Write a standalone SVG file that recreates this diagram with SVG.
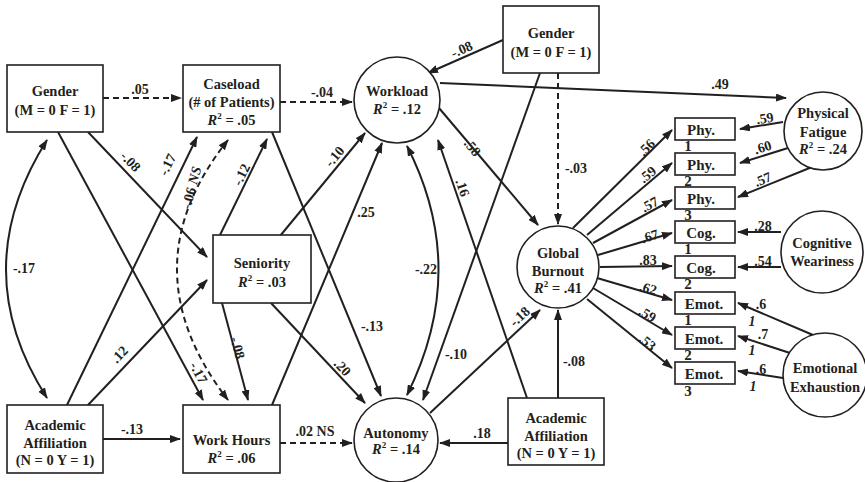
<svg xmlns="http://www.w3.org/2000/svg" width="865" height="482" viewBox="0 0 865 482" font-family="'Liberation Serif', 'DejaVu Serif', serif">
<defs>
<marker id="ah" markerUnits="userSpaceOnUse" markerWidth="11" markerHeight="8" refX="10" refY="4" orient="auto-start-reverse"><path d="M0,0 L11,4 L0,8 z" fill="#231f20"/></marker>
<style>
.n{fill:#fff;stroke:#231f20;stroke-width:1.6}
text{font-family:'Liberation Serif','DejaVu Serif',serif;font-weight:bold;fill:#231f20;text-anchor:middle}
.t{font-size:14.5px}
.i{font-size:15px}
.l{font-size:14px}
.e{fill:none;stroke:#231f20;stroke-width:2;marker-end:url(#ah)}
.d{stroke-dasharray:6,4}
.b{marker-start:url(#ah)}
.it{font-style:italic}
</style>
</defs>
<g id="connectors">
<path class="e d" d="M103,98 L181,98"/>
<path class="e d" d="M280,102 L352,102"/>
<path class="e" d="M503,40 L428,73"/>
<path class="e" d="M440,83 L786,98"/>
<path class="e" d="M439,108 L538,225"/>
<path class="e d" d="M558,73 L558,224"/>
<path class="e" d="M540,73 L423,400"/>
<path class="e" d="M527,398 L438,140"/>
<path class="e b" d="M407,146 Q470,269 407,395"/>
<path class="e" d="M272,132 L381,396"/>
<path class="e" d="M271,303 L365,403"/>
<path class="e" d="M272,405 L382,143"/>
<path class="e" d="M280,236 L365,133"/>
<path class="e" d="M220,235 L267,139"/>
<path class="e" d="M67,405 L197,137"/>
<path class="e" d="M88,405 L207,280"/>
<path class="e" d="M88,132 L207,257"/>
<path class="e" d="M58,132 L203,400"/>
<path class="e b" d="M47,140 Q-35,270 47,398"/>
<path class="e b d" d="M228,140 Q126,268 228,400"/>
<path class="e" d="M222,303 L248,400"/>
<path class="e" d="M103,439 L180,439"/>
<path class="e d" d="M280,443 L352,443"/>
<path class="e" d="M508,443 L440,443"/>
<path class="e" d="M430,413 L540,310"/>
<path class="e" d="M558,398 L558,310"/>
<path class="e" d="M573,228 L672,130"/>
<path class="e" d="M587,235 L672,163"/>
<path class="e" d="M593,243 L672,200"/>
<path class="e" d="M598,255 L672,233"/>
<path class="e" d="M600,267 L672,266"/>
<path class="e" d="M597,278 L672,300"/>
<path class="e" d="M593,288 L672,335"/>
<path class="e" d="M587,299 L672,368"/>
<path class="e" d="M783,122 L740,129"/>
<path class="e" d="M788,148 L740,163"/>
<path class="e" d="M812,167 L738,197"/>
<path class="e" d="M781,232 L738,232"/>
<path class="e" d="M781,267 L738,267"/>
<path class="e" d="M813,335 L738,303"/>
<path class="e" d="M790,353 L738,336"/>
<path class="e" d="M783,378 L738,371"/>
<text class="l" x="140" y="94">.05</text>
<text class="l" x="322" y="97">-.04</text>
<text class="l" transform="translate(462,50) rotate(-24)" y="4">-.08</text>
<text class="l" x="720" y="89">.49</text>
<text class="l" transform="translate(472,148) rotate(50)" y="4">.58</text>
<text class="l" x="576" y="173">-.03</text>
<text class="l" x="456" y="359">-.10</text>
<text class="l" transform="translate(462,188) rotate(71)" y="4">.16</text>
<text class="l" x="426" y="274">-.22</text>
<text class="l" x="372" y="331">-.13</text>
<text class="l" transform="translate(342,368) rotate(47)" y="4">.20</text>
<text class="l" x="366" y="217">.25</text>
<text class="l" transform="translate(335,157) rotate(-50)" y="4">-.10</text>
<text class="l" transform="translate(242,175) rotate(-64)" y="4">-.12</text>
<text class="l" transform="translate(168,165) rotate(-64)" y="4">-.17</text>
<text class="l" transform="translate(120,355) rotate(-46)" y="4">.12</text>
<text class="l" transform="translate(130,162) rotate(46)" y="4">-.08</text>
<text class="l" transform="translate(198,373) rotate(62)" y="4">-.17</text>
<text class="l" x="24" y="273">-.17</text>
<text class="l" transform="translate(192,188) rotate(-75)" y="4">-.06 <tspan class="it">NS</tspan></text>
<text class="l" transform="translate(237,348) rotate(75)" y="4">-.08</text>
<text class="l" x="132" y="434">-.13</text>
<text class="l" x="315" y="436">.02 NS</text>
<text class="l" x="482" y="438">.18</text>
<text class="l" transform="translate(520,317) rotate(-43)" y="4">-.18</text>
<text class="l" x="574" y="366">-.08</text>
<text class="l" transform="translate(647,148) rotate(-45)" y="4">.56</text>
<text class="l" transform="translate(648,175) rotate(-40)" y="4">.59</text>
<text class="l" transform="translate(650,205) rotate(-29)" y="4">.57</text>
<text class="l" transform="translate(650,237) rotate(-17)" y="4">.67</text>
<text class="l" x="648" y="265">.83</text>
<text class="l" transform="translate(648,289) rotate(16)" y="4">.62</text>
<text class="l" transform="translate(647,315) rotate(31)" y="4">.59</text>
<text class="l" transform="translate(647,343) rotate(39)" y="4">.53</text>
<text class="l" transform="translate(765,119) rotate(-9)" y="4">.59</text>
<text class="l" transform="translate(763,148) rotate(-17)" y="4">.60</text>
<text class="l" transform="translate(763,180) rotate(-22)" y="4">.57</text>
<text class="l" x="763" y="231">.28</text>
<text class="l" x="763" y="266">.54</text>
<text class="l" x="761" y="309">.6</text>
<text class="l it" x="752" y="326">1</text>
<text class="l" x="763" y="339">.7</text>
<text class="l it" x="752" y="355">1</text>
<text class="l" x="761" y="374">.6</text>
<text class="l it" x="753" y="391">1</text>
</g>
<g id="genderL"><rect class="n" x="7" y="65" width="96" height="67"/><text class="t" x="55" y="96">Gender</text><text class="t" x="55" y="115">(M = 0 F = 1)</text></g>
<g id="caseload"><rect class="n" x="183" y="65" width="97" height="67"/><text class="t" x="231.5" y="89">Caseload</text><text class="t" x="231.5" y="107">(# of Patients)</text><text class="t" x="231.5" y="125"><tspan class="it">R</tspan><tspan font-size="9" dy="-6">2</tspan><tspan dy="6"> = .05</tspan></text></g>
<g id="workload"><circle class="n" cx="397" cy="100" r="43"/><text class="t" x="397" y="96">Workload</text><text class="t" x="397" y="114"><tspan class="it">R</tspan><tspan font-size="9" dy="-6">2</tspan><tspan dy="6"> = .12</tspan></text></g>
<g id="genderT"><rect class="n" x="503" y="6" width="96" height="67"/><text class="t" x="551" y="38">Gender</text><text class="t" x="551" y="57">(M = 0 F = 1)</text></g>
<g id="physFat"><circle class="n" cx="823" cy="131" r="39"/><text class="t" x="823" y="118">Physical</text><text class="t" x="823" y="137">Fatigue</text><text class="t" x="823" y="154"><tspan class="it">R</tspan><tspan font-size="9" dy="-6">2</tspan><tspan dy="6"> = .24</tspan></text></g>
<g id="phy1"><rect class="n" x="675" y="118" width="60" height="22"/><text class="i" x="701" y="135">Phy.</text><text class="i" x="688" y="151">1</text></g>
<g id="phy2"><rect class="n" x="675" y="153" width="60" height="22"/><text class="i" x="701" y="170">Phy.</text><text class="i" x="688" y="186">2</text></g>
<g id="phy3"><rect class="n" x="675" y="187" width="60" height="22"/><text class="i" x="701" y="204">Phy.</text><text class="i" x="688" y="220">3</text></g>
<g id="cog1"><rect class="n" x="675" y="221" width="60" height="22"/><text class="i" x="701" y="238">Cog.</text><text class="i" x="688" y="254">1</text></g>
<g id="cog2"><rect class="n" x="675" y="256" width="60" height="22"/><text class="i" x="701" y="273">Cog.</text><text class="i" x="688" y="289">2</text></g>
<g id="emot1"><rect class="n" x="675" y="292" width="60" height="22"/><text class="i" x="704" y="309">Emot.</text><text class="i" x="688" y="325">1</text></g>
<g id="emot2"><rect class="n" x="675" y="327" width="60" height="22"/><text class="i" x="704" y="344">Emot.</text><text class="i" x="688" y="360">2</text></g>
<g id="emot3"><rect class="n" x="675" y="362" width="60" height="22"/><text class="i" x="704" y="379">Emot.</text><text class="i" x="688" y="396">3</text></g>
<g id="cogWear"><circle class="n" cx="822" cy="252" r="41"/><text class="t" x="822" y="248">Cognitive</text><text class="t" x="822" y="266">Weariness</text></g>
<g id="emotEx"><circle class="n" cx="825" cy="375" r="42"/><text class="t" x="825" y="373">Emotional</text><text class="t" x="825" y="392">Exhaustion</text></g>
<g id="burnout"><circle class="n" cx="558" cy="267" r="41"/><text class="t" x="558" y="258">Global</text><text class="t" x="558" y="276">Burnout</text><text class="t" x="558" y="293"><tspan class="it">R</tspan><tspan font-size="9" dy="-6">2</tspan><tspan dy="6"> = .41</tspan></text></g>
<g id="seniority"><rect class="n" x="213" y="235" width="98" height="68"/><text class="t" x="262" y="268">Seniority</text><text class="t" x="262" y="287"><tspan class="it">R</tspan><tspan font-size="9" dy="-6">2</tspan><tspan dy="6"> = .03</tspan></text></g>
<g id="acadL"><rect class="n" x="7" y="405" width="96" height="68"/><text class="t" x="55" y="430">Academic</text><text class="t" x="55" y="448">Affiliation</text><text class="t" x="55" y="465">(N = 0 Y = 1)</text></g>
<g id="workHours"><rect class="n" x="183" y="405" width="97" height="68"/><text class="t" x="231.5" y="445">Work Hours</text><text class="t" x="231.5" y="463"><tspan class="it">R</tspan><tspan font-size="9" dy="-6">2</tspan><tspan dy="6"> = .06</tspan></text></g>
<g id="autonomy"><circle class="n" cx="396" cy="440" r="42"/><text class="t" x="396" y="438">Autonomy</text><text class="t" x="396" y="454"><tspan class="it">R</tspan><tspan font-size="9" dy="-6">2</tspan><tspan dy="6"> = .14</tspan></text></g>
<g id="acadR"><rect class="n" x="508" y="398" width="96" height="67"/><text class="t" x="556" y="423">Academic</text><text class="t" x="556" y="441">Affiliation</text><text class="t" x="556" y="458">(N = 0  Y = 1)</text></g>
</svg>
